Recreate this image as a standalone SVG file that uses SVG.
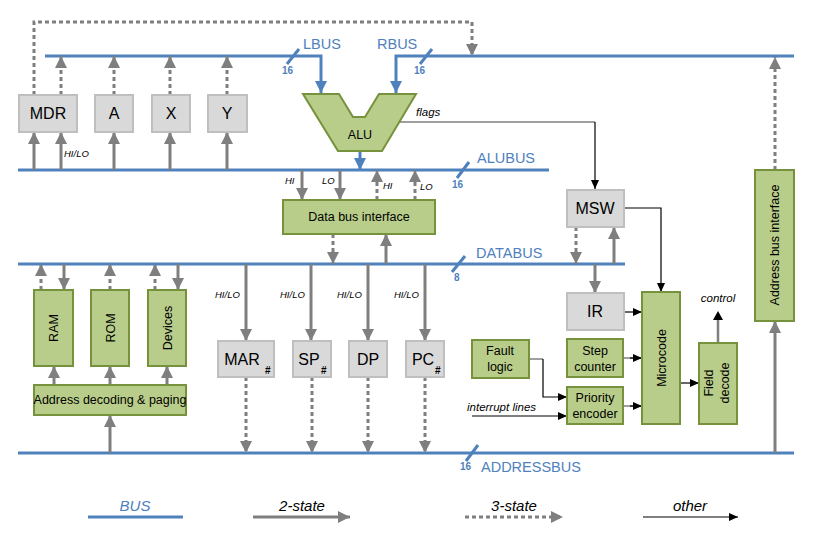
<svg xmlns="http://www.w3.org/2000/svg" width="813" height="548" viewBox="0 0 813 548">
<defs>
<style>
.bus{stroke:#4f81bd;stroke-width:3;fill:none}
.s2{stroke:#7f7f7f;stroke-width:3;fill:none;marker-end:url(#ag)}
.s3{stroke:#7f7f7f;stroke-width:3;fill:none;stroke-dasharray:4 3;marker-end:url(#ag)}
.ot{stroke:#000;stroke-width:1.2;fill:none;marker-end:url(#ak)}
.otg{stroke:#7f7f7f;stroke-width:1.5;fill:none}
.gb{fill:#d9d9d9;stroke:#bfbfbf;stroke-width:2}
.gr{fill:#b9cd8a;stroke:#76923c;stroke-width:2}
text{font-family:"Liberation Sans",Arial,sans-serif;fill:#000}
.reg{font-size:16px;text-anchor:middle}
.box{font-size:12.5px;text-anchor:middle}
.lab{font-size:9.5px;font-style:italic}
.lab2{font-size:11.5px;font-style:italic}
.bl{font-size:14.5px;fill:#4f81bd}
.wd{font-size:10px;font-weight:bold;fill:#4f81bd}
.hs{font-size:10px;font-weight:bold}
.lg{font-size:15px;font-style:italic;text-anchor:middle}
</style>
<marker id="ag" viewBox="0 0 12 12" refX="12" refY="6" markerWidth="12" markerHeight="12" markerUnits="userSpaceOnUse" orient="auto"><path d="M0,0 L12,6 L0,12 z" fill="#7f7f7f"/></marker>
<marker id="ab" viewBox="0 0 12 12" refX="12" refY="6" markerWidth="12" markerHeight="12" markerUnits="userSpaceOnUse" orient="auto"><path d="M0,0 L12,6 L0,12 z" fill="#4f81bd"/></marker>
<marker id="ak" viewBox="0 0 9 8" refX="9" refY="4" markerWidth="9" markerHeight="8" markerUnits="userSpaceOnUse" orient="auto"><path d="M0,0 L9,4 L0,8 z" fill="#000"/></marker>
</defs>
<rect width="813" height="548" fill="#fff"/>

<g id="connectors">
<!-- buses -->
<path class="bus" d="M45,56 H321 V93" marker-end="url(#ab)"/>
<path class="bus" d="M794,56 H396 V93" marker-end="url(#ab)"/>
<path class="bus" d="M18,170 H549"/>
<path class="bus" d="M360,151 V170" marker-end="url(#ab)"/>
<path class="bus" d="M18,264 H625"/>
<path class="bus" d="M18,453 H794"/>
<!-- bus width slashes -->
<path class="bus" d="M287,64 L299,49 M420,64 L432,49 M457,178 L469,162 M452,272 L465,256 M466,461 L478,445" stroke-width="2.5"/>

<!-- top registers -->
<path class="s2" d="M34,170 V132"/>
<path class="s2" d="M61,170 V132"/>
<path class="s2" d="M114,170 V132"/>
<path class="s2" d="M170,170 V132"/>
<path class="s2" d="M227,170 V132"/>
<path class="s3" d="M61,95 V56"/>
<path class="s3" d="M114,95 V56"/>
<path class="s3" d="M170,95 V56"/>
<path class="s3" d="M227,95 V56"/>
<path class="s3" d="M34,95 V22 H472 V56"/>

<!-- flags -->
<path class="otg" d="M398,122 H595"/>
<path class="ot" d="M595,122 V189"/>

<!-- data bus interface -->
<path class="s2" d="M302,170 V200"/>
<path class="s2" d="M340,170 V200"/>
<path class="s3" d="M377,200 V170"/>
<path class="s3" d="M415,200 V170"/>
<path class="s3" d="M333,234 V264"/>
<path class="s2" d="M386,264 V234"/>

<!-- MSW / IR -->
<path class="s3" d="M576,227 V264"/>
<path class="s2" d="M614,264 V227"/>
<path class="s2" d="M595,264 V293"/>
<path class="ot" d="M624,208 H661 V292"/>
<path class="ot" d="M624,312 H642"/>
<path class="otg" d="M623,358 H633"/>
<path class="ot" d="M630,358 H642"/>
<path class="otg" d="M623,406 H633"/>
<path class="ot" d="M630,406 H642"/>
<path class="ot" d="M680,383 H699"/>
<path d="M718,343 V314" stroke="#7f7f7f" stroke-width="2.5" fill="none"/>
<path d="M713,320 L718,311 L723,320 z" fill="#000"/>
<path class="otg" d="M529,359 H543"/>
<path class="ot" d="M543,359 V397 H567"/>
<path class="ot" d="M472,416 H567"/>

<!-- address bus interface -->
<path class="s3" d="M775,170 V57"/>
<path class="s2" d="M775,453 V321"/>

<!-- memory -->
<path class="s3" d="M41,290 V264"/>
<path class="s2" d="M64,264 V290"/>
<path class="s3" d="M110,290 V264"/>
<path class="s3" d="M155,290 V264"/>
<path class="s2" d="M178,264 V290"/>
<path class="s2" d="M54,385 V366"/>
<path class="s2" d="M110,385 V366"/>
<path class="s2" d="M167,385 V366"/>
<path class="s2" d="M110,453 V415"/>

<!-- address registers -->
<path class="s2" d="M246,264 V341"/>
<path class="s2" d="M311,264 V341"/>
<path class="s2" d="M368,264 V341"/>
<path class="s2" d="M425,264 V341"/>
<path class="s3" d="M246,377 V453"/>
<path class="s3" d="M312,377 V453"/>
<path class="s3" d="M368,377 V453"/>
<path class="s3" d="M425,377 V453"/>
</g>

<g id="bus-labels">
<text class="bl" x="303" y="49">LBUS</text>
<text class="bl" x="377" y="49">RBUS</text>
<text class="bl" x="477" y="163">ALUBUS</text>
<text class="bl" x="476" y="258">DATABUS</text>
<text class="bl" x="481" y="472">ADDRESSBUS</text>
<text class="wd" x="282" y="74">16</text>
<text class="wd" x="414" y="74">16</text>
<text class="wd" x="452" y="188">16</text>
<text class="wd" x="454" y="281">8</text>
<text class="wd" x="460" y="470">16</text>
<text class="lab" x="64" y="157">HI/LO</text>
<text class="lab" x="285" y="184">HI</text>
<text class="lab" x="322" y="184">LO</text>
<text class="lab" x="383" y="189">HI</text>
<text class="lab" x="420" y="190">LO</text>
<text class="lab" x="215" y="298">HI/LO</text>
<text class="lab" x="280" y="298">HI/LO</text>
<text class="lab" x="337" y="298">HI/LO</text>
<text class="lab" x="394" y="298">HI/LO</text>
<text class="lab2" x="416" y="116">flags</text>
<text class="lab2" x="718" y="302" text-anchor="middle">control</text>
<text class="lab2" x="467" y="411">interrupt lines</text>
</g>

<g id="MDR"><rect class="gb" x="19" y="95" width="58" height="37"/><text class="reg" x="48" y="119">MDR</text></g>
<g id="A"><rect class="gb" x="95" y="95" width="38" height="37"/><text class="reg" x="114" y="119">A</text></g>
<g id="X"><rect class="gb" x="152" y="95" width="38" height="37"/><text class="reg" x="171" y="119">X</text></g>
<g id="Y"><rect class="gb" x="208" y="95" width="39" height="37"/><text class="reg" x="227" y="119">Y</text></g>

<g id="ALU"><path class="gr" d="M303,94 H339 L353,117 H365 L379,94 H416 L382,151 H338 Z"/><text class="box" x="360" y="139">ALU</text></g>

<g id="DBI"><rect class="gr" x="283" y="200" width="152" height="34"/><text class="box" x="359" y="221">Data bus interface</text></g>

<g id="MSW"><rect class="gb" x="567" y="190" width="57" height="37"/><text class="reg" x="595" y="214">MSW</text></g>
<g id="IR"><rect class="gb" x="567" y="293" width="57" height="37"/><text class="reg" x="595" y="317">IR</text></g>
<g id="StepCounter"><rect class="gr" x="567" y="339" width="56" height="38"/><text class="box" x="595" y="355">Step</text><text class="box" x="595" y="371">counter</text></g>
<g id="PriorityEncoder"><rect class="gr" x="567" y="387" width="56" height="37"/><text class="box" x="595" y="402">Priority</text><text class="box" x="595" y="418">encoder</text></g>
<g id="FaultLogic"><rect class="gr" x="472" y="340" width="57" height="38"/><text class="box" x="500" y="355">Fault</text><text class="box" x="500" y="371">logic</text></g>
<g id="Microcode"><rect class="gr" x="642" y="292" width="38" height="132"/><text class="box" transform="translate(666,358) rotate(-90)">Microcode</text></g>
<g id="FieldDecode"><rect class="gr" x="699" y="343" width="38" height="81"/><text class="box" transform="translate(713,383) rotate(-90)">Field</text><text class="box" transform="translate(729,383) rotate(-90)">decode</text></g>
<g id="AddressBusInterface"><rect class="gr" x="755" y="170" width="39" height="151"/><text class="box" transform="translate(779,245) rotate(-90)">Address bus interface</text></g>

<g id="RAM"><rect class="gr" x="34" y="290" width="39" height="76"/><text class="box" transform="translate(58,328) rotate(-90)">RAM</text></g>
<g id="ROM"><rect class="gr" x="91" y="290" width="38" height="76"/><text class="box" transform="translate(115,328) rotate(-90)">ROM</text></g>
<g id="Devices"><rect class="gr" x="148" y="290" width="38" height="76"/><text class="box" transform="translate(172,328) rotate(-90)">Devices</text></g>
<g id="AddrDecode"><rect class="gr" x="34" y="385" width="152" height="30"/><text class="box" x="110" y="404">Address decoding &amp; paging</text></g>

<g id="MAR"><rect class="gb" x="218" y="341" width="56" height="36"/><text class="reg" x="242" y="365">MAR</text><text class="hs" x="265" y="374">#</text></g>
<g id="SP"><rect class="gb" x="293" y="341" width="38" height="36"/><text class="reg" x="309" y="365">SP</text><text class="hs" x="321" y="374">#</text></g>
<g id="DP"><rect class="gb" x="349" y="341" width="38" height="36"/><text class="reg" x="368" y="365">DP</text></g>
<g id="PC"><rect class="gb" x="406" y="341" width="38" height="36"/><text class="reg" x="423" y="365">PC</text><text class="hs" x="435" y="374">#</text></g>

<g id="legend">
<path class="bus" d="M88,517 H183"/>
<text class="lg" x="135" y="511" style="fill:#4f81bd">BUS</text>
<path class="s2" d="M253,517 H350"/>
<text class="lg" x="302" y="511">2-state</text>
<path class="s3" d="M465,517 H563"/>
<text class="lg" x="514" y="511">3-state</text>
<path class="ot" d="M643,517 H738"/>
<text class="lg" x="690" y="511">other</text>
</g>
</svg>
